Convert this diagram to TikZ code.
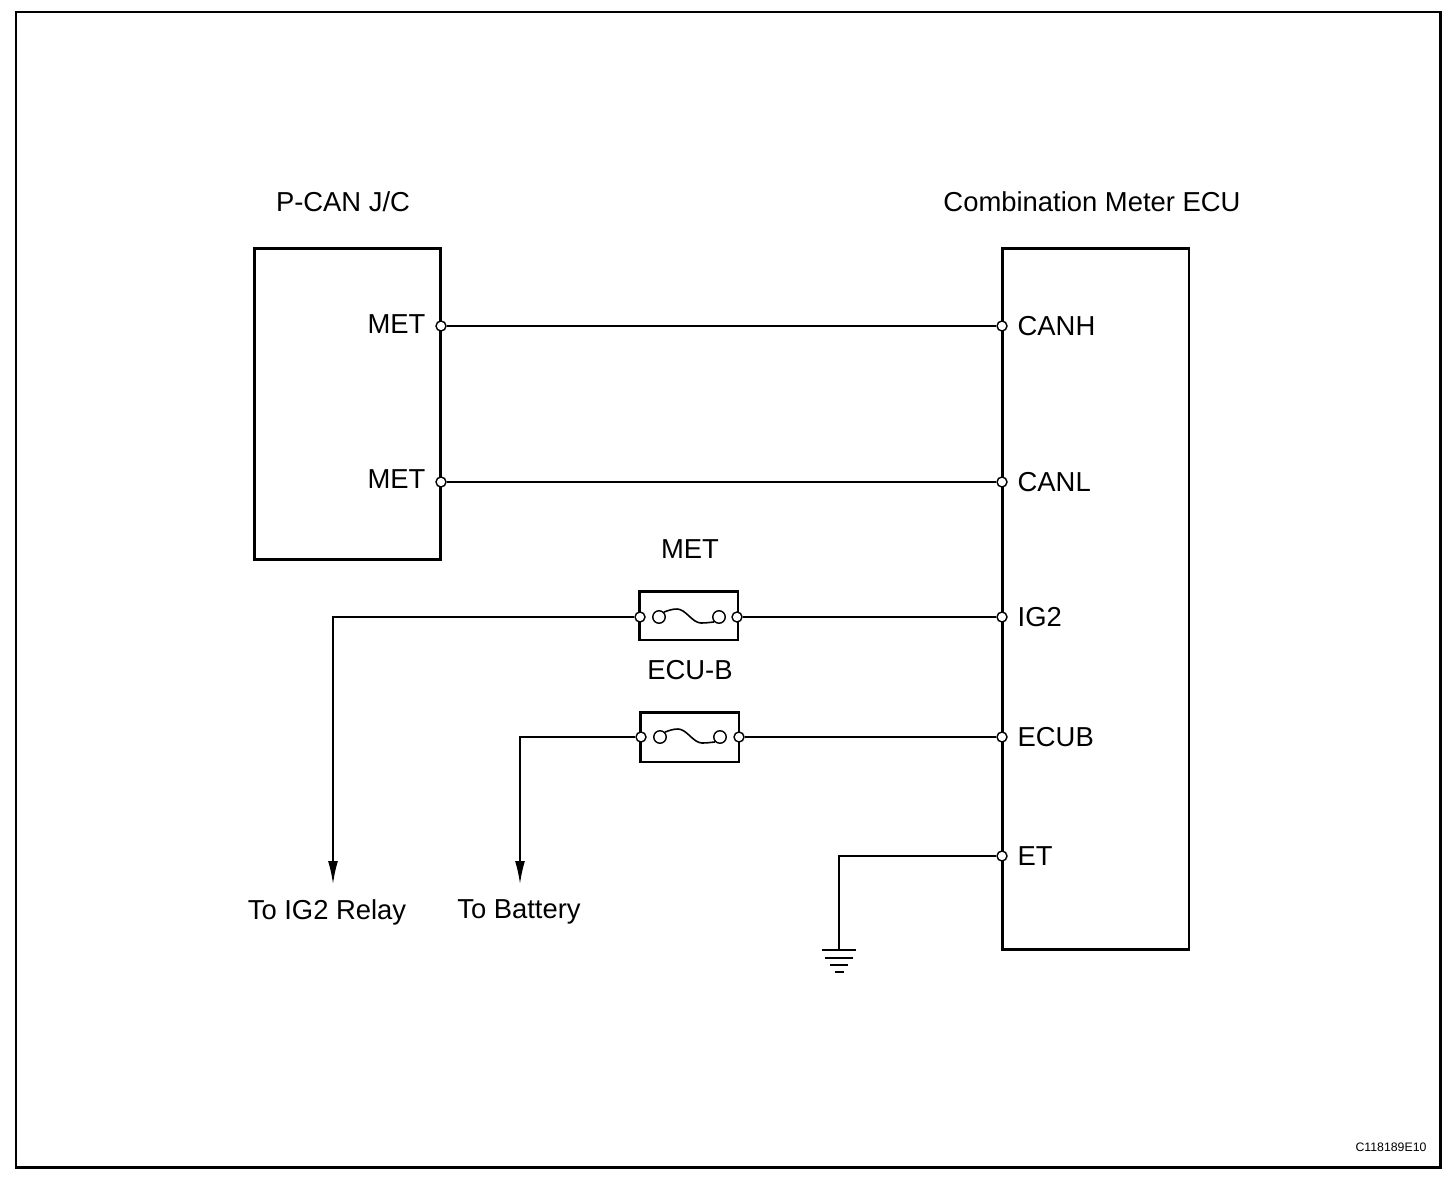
\documentclass[tikz,border=0pt]{standalone}
\usepackage{fontspec}
\setmainfont{Liberation Sans}
\usepackage{tikz}
\usetikzlibrary{arrows.meta}

\begin{document}
\begin{tikzpicture}
    [x=0.02cm,y=-0.02cm,line width=0.9pt,>={Latex[length=13pt,width=5.6pt]},
     every node/.style={font=\fontsize{15.6}{18}\selectfont},
     box/.style={draw,rectangle,line width=1.7pt,inner sep=0pt},
     term/.style={circle,draw,fill=white,line width=0.8pt,inner sep=0pt,minimum size=0.2cm},
     fuseend/.style={circle,draw,fill=white,line width=0.8pt,inner sep=0pt,minimum size=0.25cm}]
    \useasboundingbox (0,0) rectangle (1456,1182);
    \draw[line width=1.7pt] (16,12) rectangle (1440,1167);

    % units
    \node[box,minimum width=3.74cm,minimum height=6.24cm] (jc) at (347.5,404) {};
    \node[box,minimum width=3.74cm,minimum height=14.04cm] (ecu) at (1095.5,599) {};
    \node (tjc) at (343,202) {P-CAN J/C};
    \node (tecu) at (1092,202) {Combination Meter ECU};

    % fuses
    \node[box,minimum width=1.98cm,minimum height=0.98cm] (fmet) at (688.5,615.5) {};
    \node[box,minimum width=1.98cm,minimum height=1.0cm] (fecu) at (689.5,737) {};
    \node (lmet) at (690,549) {MET};
    \node (lecu) at (690,670) {ECU-B};

    % terminals
    \node[term] (jch) at (441,326) {};
    \node[term] (jcl) at (441,482) {};
    \node[term] (ecuh) at (1002,326) {};
    \node[term] (ecul) at (1002,482) {};
    \node[term] (ecuig) at (1002,617) {};
    \node[term] (ecub) at (1002,737) {};
    \node[term] (ecuet) at (1002,856) {};
    \node[term] (fmetl) at (640,617) {};
    \node[term] (fmetr) at (737,617) {};
    \node[fuseend] (fmeti) at (659,617) {};
    \node[fuseend] (fmetj) at (719,617) {};
    \node[term] (fecul) at (641,737) {};
    \node[term] (fecur) at (739,737) {};
    \node[fuseend] (fecui) at (660,737) {};
    \node[fuseend] (fecuj) at (720,737) {};

    % pin labels
    \node[anchor=east] (pmet1) at (432,324) {MET};
    \node[anchor=east] (pmet2) at (432,479) {MET};
    \node[anchor=west] (pcanh) at (1011,326) {CANH};
    \node[anchor=west] (pcanl) at (1011,482) {CANL};
    \node[anchor=west] (pig) at (1011,617) {IG2};
    \node[anchor=west] (pecub) at (1011,737) {ECUB};
    \node[anchor=west] (pet) at (1011,856) {ET};

    % fuse elements
    \draw (fmeti.north east) sin (677,609) cos (689,616) sin (701,623) cos (fmetj.south west);
    \draw (fecui.north east) sin (678,729) cos (690,736) sin (702,743) cos (fecuj.south west);

    % wires
    \path (jch) edge (ecuh);
    \path (jcl) edge (ecul);
    \draw (ecuig) -- (fmetr);
    \draw (ecub) -- (fecur);

    \coordinate (cig) at (333,617);
    \coordinate (cbat) at (520,737);
    \coordinate (eig) at (333,884);
    \coordinate (ebat) at (520,884);
    \draw[->] (fmetl) -- (cig) -- (eig);
    \draw[->] (fecul) -- (cbat) -- (ebat);
    \node (lig) at (327,912) {To IG2 Relay};
    \node (lbat) at (519,912) {To Battery};

    % ground
    \coordinate (cet) at (839,856);
    \coordinate (gnd) at (839,950);
    \draw (ecuet) -- (cet) -- (gnd);
    \draw (822,950) -- (856,950);
    \draw[line width=1.5pt] (825,958) -- (853,958);
    \draw[line width=1.5pt] (830,965) -- (848,965);
    \draw[line width=1.5pt] (834.5,972) -- (843.5,972);

    \node[font=\fontsize{7}{8}\selectfont] (code) at (1391,1147) {C118189E10};
\end{tikzpicture}
\end{document}
